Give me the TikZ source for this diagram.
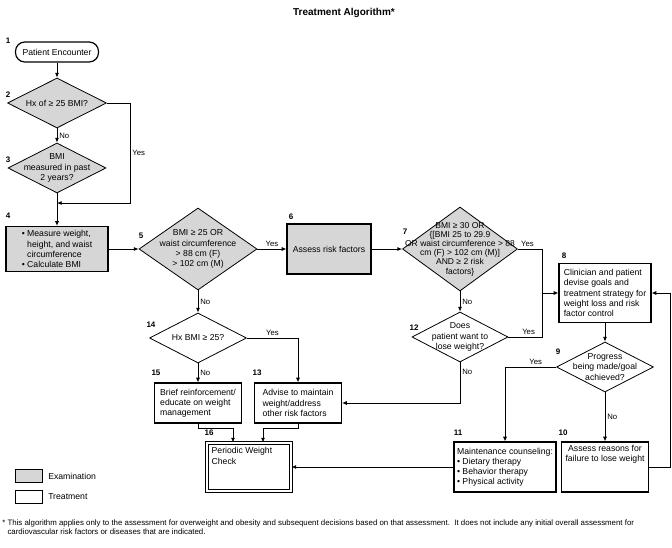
\documentclass[tikz,border=0pt]{standalone}
\usepackage{fontspec}
\setmainfont{Liberation Sans}
\usetikzlibrary{shapes.geometric,arrows.meta}

\tikzset{
  exam/.style={fill=black!16},
  wh/.style 2 args={minimum width=#1*0.75pt, minimum height=#2*0.75pt},
  dia/.style={draw, diamond, inner sep=0pt, line width=0.6pt},
  box/.style={draw, rectangle, inner sep=1.5pt, line width=0.9pt, align=left},
  txt/.style={align=center, inner sep=0pt},
  num/.style={font=\bfseries\fontsize{6}{7}\selectfont, inner sep=0pt},
  yn/.style={font=\fontsize{5.8}{6}\selectfont, inner sep=1.5pt},
  arr/.style={line width=0.6pt, -{Latex[length=3.5pt,width=3pt]}},
  ln/.style={line width=0.6pt}
}

\begin{document}
\begin{tikzpicture}[x=0.75pt,y=0.75pt,yscale=-1, every node/.style={font=\fontsize{6.5}{7.6}\selectfont}]
\useasboundingbox (0,0) rectangle (672,548);

% Title
\node[font=\bfseries\fontsize{7.5}{9}\selectfont] (title) at (344,13) {Treatment Algorithm*};

%Rounded Rect
\node[draw, rounded corners=7pt, line width=0.9pt, wh={83}{20}] (p1) at (57,52) {Patient Encounter};
%Diamonds
\node[dia, exam, wh={99}{50}] (d2) at (57,103) {};
\node[txt] (t2) at (d2) {Hx of ≥ 25 BMI?};
\node[dia, exam, wh={98}{50}] (d3) at (57,168) {};
\node[txt] (t3) at (d3) {BMI\\measured in past\\2 years?};
%Rect
\node[box, exam, wh={102}{45}] (b4) at (57,249) {\textbullet\ Measure weight,\\\phantom{\textbullet\ }height, and waist\\\phantom{\textbullet\ }circumference\\\textbullet\ Calculate BMI};
\node[dia, exam, wh={118}{82}] (d5) at (198,249) {};
\node[txt] (t5) at (d5) {BMI ≥ 25 OR\\waist circumference\\> 88 cm (F)\\> 102 cm (M)};
\node[box, exam, wh={84}{50}, align=center] (b6) at (329,249) {Assess risk factors};
\node[dia, exam, wh={115}{84}] (d7) at (460,249) {};
\node[txt, font=\fontsize{6.4}{6.9}\selectfont] (t7) at (d7) {BMI ≥ 30 OR\\\{[BMI 25 to 29.9\\OR waist circumference > 88\\cm (F) > 102 cm (M)]\\AND ≥ 2 risk\\factors\}};
\node[box, wh={92}{59}] (b8) at (605,293) {Clinician and patient\\devise goals and\\treatment strategy for\\weight loss and risk\\factor control};
\node[dia, wh={96}{50}] (d12) at (460,337) {};
\node[txt] (t12) at (d12) {Does\\patient want to\\lose weight?};
\node[dia, wh={97}{50}] (d9) at (605,367) {};
\node[txt] (t9) at (d9) {Progress\\being made/goal\\achieved?};
\node[box, wh={102}{50}] (b11) at (505,467) {Maintenance counseling:\\\textbullet\ Dietary therapy\\\textbullet\ Behavior therapy\\\textbullet\ Physical activity};
\node[box, wh={86}{50}] (b10) at (605,467) {\parbox[c][33pt][t]{62pt}{\centering Assess reasons for\\failure to lose weight}};
\node[dia, wh={97}{50}] (d14) at (198,338) {};
\node[txt] (t14) at (d14) {Hx BMI ≥ 25?};
\node[box, wh={87}{40}] (b15) at (198,403) {Brief reinforcement/\\educate on weight\\management};
\node[box, wh={87}{40}] (b13) at (298,403) {Advise to maintain\\weight/address\\other risk factors};
\node[draw, double, double distance=1.3pt, line width=0.8pt, wh={84}{48}, inner sep=2pt] (b16) at (249,467) {\parbox[c][29pt][t]{56pt}{Periodic Weight\\Check}};

% Step numbers
\node[num] (n1) at (8,41) {1};
\node[num] (n2) at (8,95) {2};
\node[num] (n3) at (8,160) {3};
\node[num] (n4) at (8,216) {4};
\node[num] (n5) at (141,236) {5};
\node[num] (n6) at (291,217) {6};
\node[num] (n7) at (405,232) {7};
\node[num] (n8) at (564,256) {8};
\node[num] (n9) at (558,352) {9};
\node[num] (n10) at (563,433) {10};
\node[num] (n11) at (458,433) {11};
\node[num] (n12) at (414,328) {12};
\node[num] (n13) at (257,373) {13};
\node[num] (n14) at (151,325) {14};
\node[num] (n15) at (156,373) {15};
\node[num] (n16) at (209,433) {16};

% Connection
\coordinate (c2) at (130,203);
\coordinate (c8) at (542,293);
\coordinate (c10) at (670,293);
\coordinate (c15) at (233,428);
\coordinate (c13) at (263,428);
\draw[arr] (p1) -- (d2);
\draw[arr] (d2) -- node[yn, right] (no2) {No} (d3);
\draw[arr] (d2.east) -| node[yn, pos=0.75, right] (yes2) {Yes} (c2) -- (c2 -| d3.south);
\draw[arr] (d3) -- (b4);
\draw[arr] (b4) -- (d5);
\draw[arr] (d5) -- node[yn, above] (yes5) {Yes} (b6);
\draw[arr] (b6) -- (d7);
\draw[arr] (d7.east) -| node[yn, pos=0.2, above] (yes7) {Yes} (c8) -- (b8.west);
\draw[ln] (d12.east) -| node[yn, pos=0.3, above] (yes12) {Yes} (c8);
\draw[arr] (d7) -- node[yn, right] (no7) {No} (d12);
\draw[arr] (d12.south) |- node[yn, pos=0.12, right] (no12) {No} (b13.east);
\draw[arr] (b8) -- (d9);
\draw[arr] (d9.west) -| node[yn, pos=0.2, above] (yes9) {Yes} (b11.north);
\draw[arr] (d9) -- node[yn, right] (no9) {No} (b10);
\draw[arr] (b10.east) -| (c10) -- (b8.east);
\draw[arr] (b11.west) -- (b11.west -| b16.east);
\draw[arr] (d5) -- node[yn, right] (no5) {No} (d14);
\draw[arr] (d14.east) -| node[yn, pos=0.25, above] (yes14) {Yes} (b13.north);
\draw[arr] (d14) -- node[yn, right] (no14) {No} (b15);
\draw[arr] (b15.south) |- (c15) -- (c15 |- b16.north);
\draw[arr] (b13.south) |- (c13) -- (c13 |- b16.north);

% Legend
\node[draw, exam, line width=0.9pt, wh={27}{13}] (lgx) at (29,476) {};
\node[right, inner sep=0pt] (lgxt) at (48,476) {Examination};
\node[draw, line width=0.9pt, wh={27}{13}] (lgt) at (29,497) {};
\node[right, inner sep=0pt] (lgtt) at (48,497) {Treatment};

% Text Node
\node[anchor=north west, align=left, inner sep=0pt, font=\fontsize{5.9}{6.6}\selectfont] (note) at (2,520) {* This algorithm applies only to the assessment for overweight and obesity and subsequent decisions based on that assessment.\ \ It does not include any initial overall assessment for\\\phantom{* }cardiovascular risk factors or diseases that are indicated.};
\end{tikzpicture}
\end{document}
